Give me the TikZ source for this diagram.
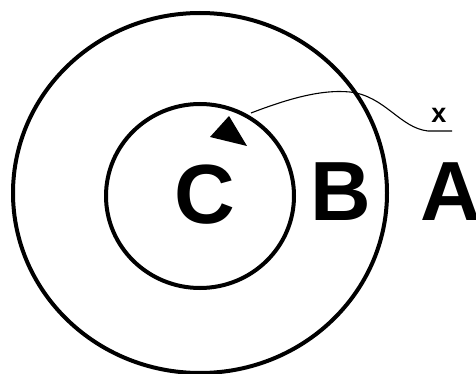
\documentclass[tikz,border=0pt]{standalone}
\usepackage{fontspec}
\setmainfont{Liberation Sans}
\begin{document}
\begin{tikzpicture}[x=1pt,y=-1pt,
  ring/.style={draw=black,line width=4pt},
  big/.style={font=\fontsize{84}{84}\selectfont\bfseries,inner sep=0pt},
  thin/.style={draw=black,line width=1.1pt}]
\useasboundingbox (0,0) rectangle (476,374);
\draw[ring] (200,193) ellipse [x radius=187, y radius=180];
\draw[ring] (200,196) ellipse [x radius=94, y radius=92];
\node[big] (C) at (205,195) {C};
\node[big] (B) at (341,192) {B};
\node[big,anchor=west] (A) at (420,192) {A};
\fill[black] (210,137) -- (247,146) -- (229,116) -- cycle;
\coordinate (s) at (251,113);
\coordinate (e) at (428,131);
\node[font=\fontsize{27}{27}\selectfont\bfseries,inner sep=0pt] (x) at (439,115) {x};
\draw[thin] (s) .. controls (285,100) and (320,89) .. (350,92)
  .. controls (385,96) and (400,128) .. (e) -- (452,131);
\end{tikzpicture}
\end{document}
